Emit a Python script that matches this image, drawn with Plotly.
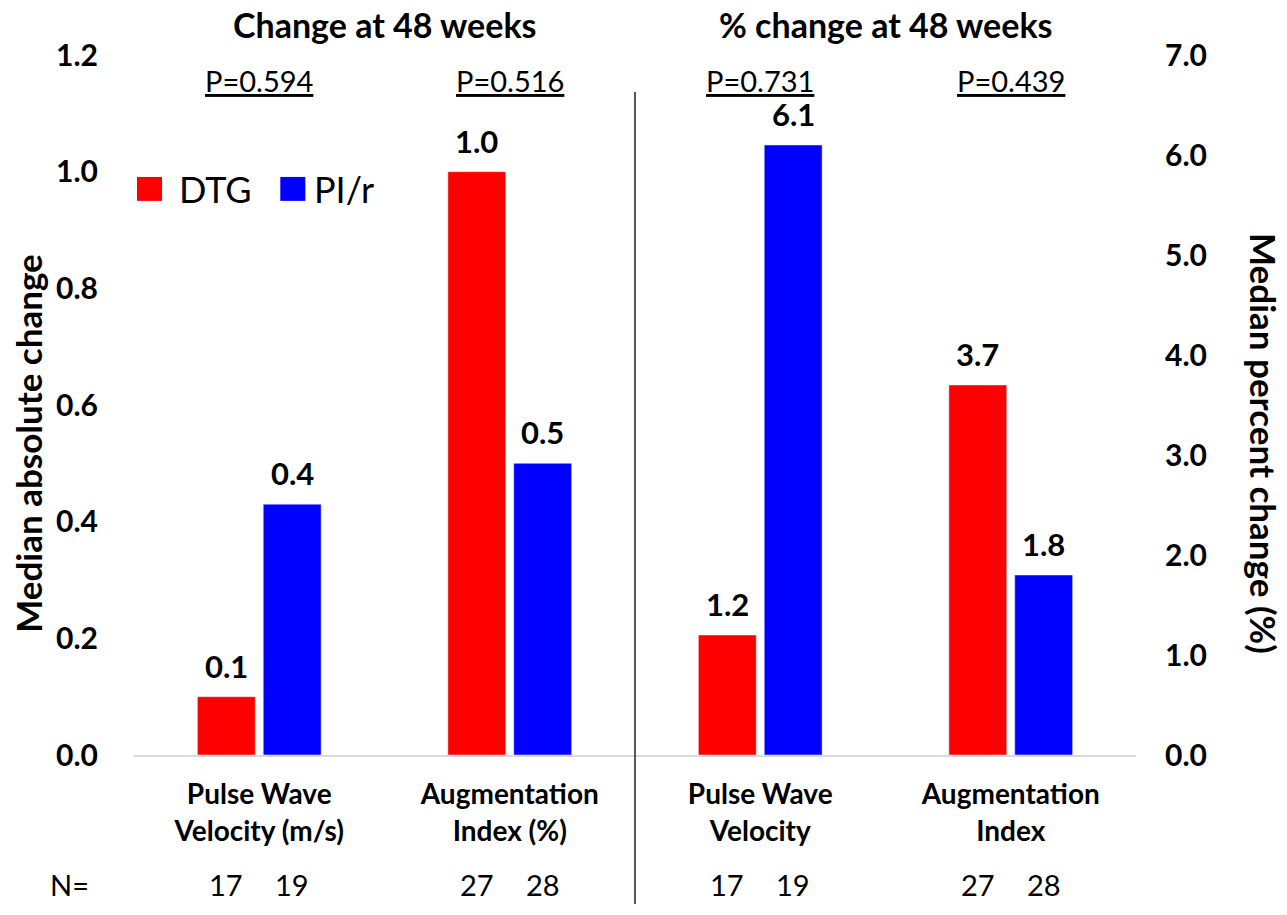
import plotly.graph_objects as go

# ---- data ----
categories = ["Pulse Wave<br>Velocity (m/s)", "Augmentation<br>Index (%)",
              "Pulse Wave<br>Velocity", "Augmentation<br>Index"]
abs_dtg = [0.1, 1.0]          # median absolute change, DTG
abs_pir = [0.43, 0.5]         # median absolute change, PI/r
pct_dtg = [1.2, 3.7]          # median percent change, DTG
pct_pir = [6.1, 1.8]          # median percent change, PI/r
n_dtg = [17, 27, 17, 27]
n_pir = [19, 28, 19, 28]
p_values = ["P=0.594", "P=0.516", "P=0.731", "P=0.439"]
panel_titles = ["Change at 48 weeks", "% change at 48 weeks"]
left_ticks = [0.0, 0.2, 0.4, 0.6, 0.8, 1.0, 1.2]
right_ticks = [0.0, 1.0, 2.0, 3.0, 4.0, 5.0, 6.0, 7.0]

RED = "#ff0000"
BLUE = "#0000ff"
FONT = "Lato"
BAR_W = 0.231
OFF_DTG = -0.247
OFF_PIR = 0.016

xi = list(range(len(categories)))
lab = dict(family=FONT, size=31, color="black", weight="bold")

fig = go.Figure()
series = [
    (xi[:2], abs_dtg, OFF_DTG, RED, "DTG", "y"),
    (xi[:2], abs_pir, OFF_PIR, BLUE, "PI/r", "y"),
    (xi[2:], pct_dtg, OFF_DTG, RED, "DTG", "y2"),
    (xi[2:], pct_pir, OFF_PIR, BLUE, "PI/r", "y2"),
]
ann = []
for xs, ys, off, col, name, ax in series:
    fig.add_trace(go.Bar(x=xs, y=ys, width=BAR_W, offset=off, marker_color=col,
                         name=name, showlegend=False, yaxis=ax))
    for x, y in zip(xs, ys):
        ann.append(dict(x=x + off + BAR_W / 2, y=y, xref="x", yref=ax, text=f"{y:.1f}",
                        showarrow=False, yanchor="bottom", yshift=10, font=lab))

# panel titles
for i, t in enumerate(panel_titles):
    ann.append(dict(x=0.5 + 2 * i, y=1.043, xref="x", yref="paper", text=t, showarrow=False,
                    xanchor="center", yanchor="middle",
                    font=dict(family=FONT, size=34, color="black", weight="bold")))
# p values
for i, p in enumerate(p_values):
    ann.append(dict(x=i, y=0.964, xref="x", yref="paper", text=f"<u>{p}</u>", showarrow=False,
                    xanchor="center", yanchor="middle", font=dict(family=FONT, size=29, color="black")))
# N row
ann.append(dict(x=-0.064, y=-0.185, xref="paper", yref="paper", text="N=", showarrow=False,
                xanchor="center", yanchor="middle", font=dict(family=FONT, size=29, color="black")))
for i in xi:
    ann.append(dict(x=i + OFF_DTG + BAR_W / 2, y=-0.185, xref="x", yref="paper", text=str(n_dtg[i]),
                    showarrow=False, xanchor="center", yanchor="middle",
                    font=dict(family=FONT, size=29, color="black")))
    ann.append(dict(x=i + OFF_PIR + BAR_W / 2, y=-0.185, xref="x", yref="paper", text=str(n_pir[i]),
                    showarrow=False, xanchor="center", yanchor="middle",
                    font=dict(family=FONT, size=29, color="black")))
# axis titles
ann.append(dict(x=-0.1058, y=0.446, xref="paper", yref="paper", text="Median absolute change",
                textangle=-90, showarrow=False, xanchor="center", yanchor="middle",
                font=dict(family=FONT, size=35, color="black", weight="bold")))
ann.append(dict(x=1.1272, y=0.445, xref="paper", yref="paper", text="Median percent change (%)",
                textangle=90, showarrow=False, xanchor="center", yanchor="middle",
                font=dict(family=FONT, size=35, color="black", weight="bold")))
# legend
ann.append(dict(x=0.0429, y=0.8087, xref="paper", yref="paper", text="DTG", xanchor="left",
                yanchor="middle", showarrow=False, font=dict(family=FONT, size=36, color="black")))
ann.append(dict(x=0.1776, y=0.8087, xref="paper", yref="paper", text="PI/r", xanchor="left",
                yanchor="middle", showarrow=False, font=dict(family=FONT, size=36, color="black")))

shapes = [
    dict(type="rect", xref="paper", yref="paper", x0=0.003, x1=0.028, y0=0.7916, y1=0.8258,
         fillcolor=RED, line=dict(width=0)),
    dict(type="rect", xref="paper", yref="paper", x0=0.146, x1=0.171, y0=0.7916, y1=0.8258,
         fillcolor=BLUE, line=dict(width=0)),
    dict(type="line", xref="x", yref="paper", x0=1.5, x1=1.5, y0=-0.213, y1=0.947,
         line=dict(color="black", width=1.3)),
]

fig.update_layout(
    width=1287, height=915,
    margin=dict(l=134, r=151, t=55, b=160),
    paper_bgcolor="white", plot_bgcolor="white",
    showlegend=False,
    annotations=ann, shapes=shapes,
    xaxis=dict(range=[-0.5, 3.5], tickvals=xi, ticktext=categories,
               tickfont=dict(family=FONT, size=28, color="black", weight="bold"),
               showline=True, linecolor="#d9d9d9", linewidth=1.5,
               ticks="outside", ticklen=14, tickcolor="rgba(0,0,0,0)",
               showgrid=False, zeroline=False),
    yaxis=dict(range=[0, 1.2], tickvals=left_ticks, ticktext=[f"{v:.1f}" for v in left_ticks],
               tickfont=dict(family=FONT, size=30, color="black", weight="bold"),
               ticks="outside", ticklen=29, tickcolor="rgba(0,0,0,0)",
               showgrid=False, zeroline=False, showline=False),
    yaxis2=dict(range=[0, 7.0], tickvals=right_ticks, ticktext=[f"{v:.1f}" for v in right_ticks],
                overlaying="y", side="right",
                tickfont=dict(family=FONT, size=30, color="black", weight="bold"),
                ticks="outside", ticklen=22, tickcolor="rgba(0,0,0,0)",
                showgrid=False, zeroline=False, showline=False),
)

fig.write_html("out.html", config={"displayModeBar": False},
               post_script="document.body.style.margin='0';")
